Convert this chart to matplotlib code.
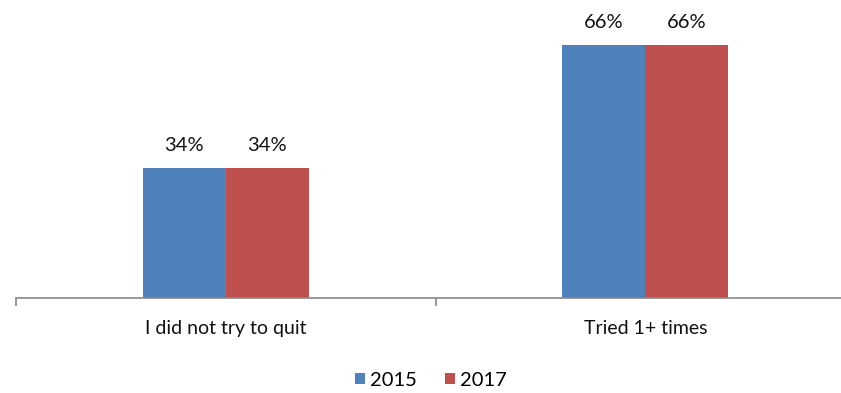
import matplotlib.pyplot as plt
import numpy as np

categories = ['I did not try to quit', 'Tried 1+ times']
years = ['2015', '2017']
pct_2015 = [34, 66]
pct_2017 = [34, 66]

colors = ['#4F81BD', '#C0504D']

plt.rcParams['font.family'] = ['Lato', 'DejaVu Sans']

fig = plt.figure(figsize=(8.41, 3.93), dpi=100)
ax = fig.add_axes([16 / 841, 95 / 393, 839 / 841, 268 / 393])

x = np.arange(len(categories))
w = 0.198
for i, (vals, c) in enumerate(zip([pct_2015, pct_2017], colors)):
    pos = x + (i - 0.5) * w
    ax.bar(pos, vals, width=w, color=c, label=years[i])
    for xp, v in zip(pos, vals):
        ax.annotate(f'{v}%', (xp, v), xytext=(0, 10), textcoords='offset points',
                    ha='center', va='bottom', fontsize=14.5, color='#111111')

ax.set_xlim(-0.5, 1.5)
ax.set_ylim(0, 70)
ax.set_yticks([])
for s in ['top', 'right', 'left']:
    ax.spines[s].set_visible(False)
ax.spines['bottom'].set_color('#888888')
ax.spines['bottom'].set_linewidth(1.2)

ax.set_xticks([-0.5, 0.5, 1.5])
ax.set_xticklabels([])
ax.tick_params(axis='x', length=6, color='#888888', width=1.2)
for xi, lab in zip(x, categories):
    ax.text(xi, -0.115, lab, transform=ax.get_xaxis_transform(), ha='center', va='center',
            fontsize=14, color='#111111')

ax.legend(loc='center', bbox_to_anchor=(431 / 841, 13 / 393), bbox_transform=fig.transFigure,
          ncol=2, frameon=False, fontsize=14.5, handlelength=0.5, handleheight=0.5,
          handletextpad=0.25, columnspacing=1.4)

fig.savefig('out.png', dpi=100)
